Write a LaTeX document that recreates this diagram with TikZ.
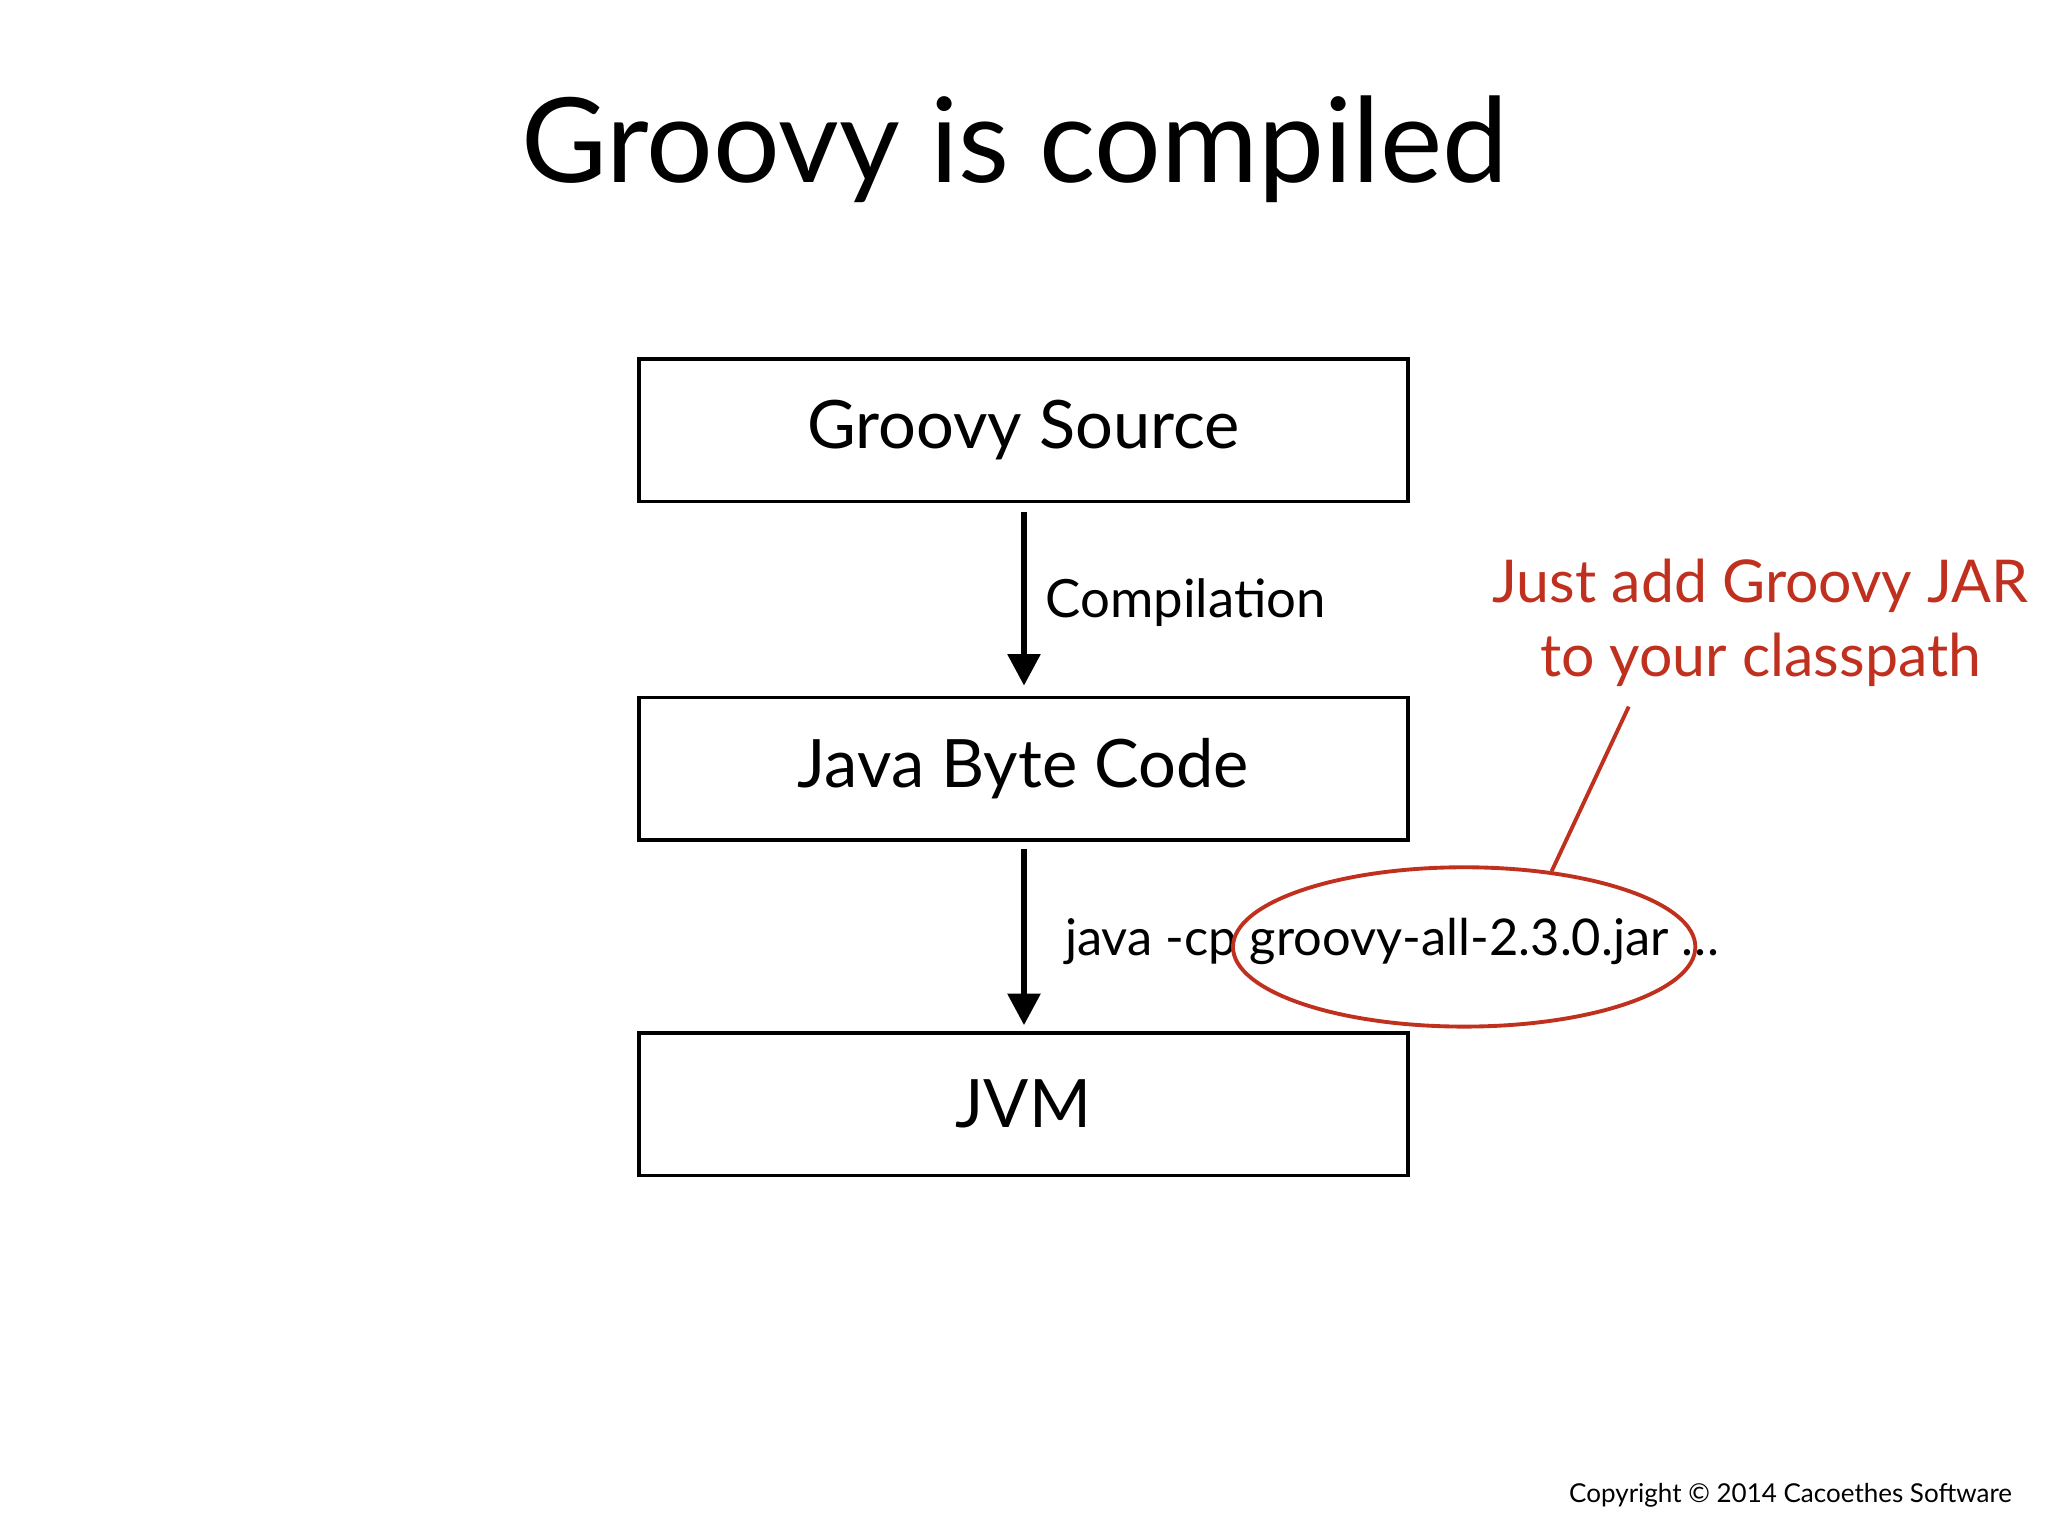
\documentclass[tikz,border=0pt]{standalone}
\usepackage{fontspec}
\setmainfont{Lato}
\usetikzlibrary{arrows.meta}
\definecolor{jred}{HTML}{C0301F}
\begin{document}
\begin{tikzpicture}[x=0.01306cm,y=-0.01306cm,
  stage/.style={draw,line width=1.1pt,minimum width=589*0.01306cm,minimum height=109*0.01306cm,inner sep=0pt,font=\fontsize{19}{24}\selectfont},
  flow/.style={line width=1.9pt,-{Triangle[length=9pt,width=9pt]}},
  lbl/.style={anchor=west,inner sep=0pt,font=\fontsize{15}{18}\selectfont}]
\useasboundingbox[fill=white] (0,0) rectangle (1568,1176);
\node (title) at (777,114) {\fontsize{33.5}{40}\selectfont Groovy is compiled};
\node[stage] (src) at (783.5,329.5) {\raisebox{-0.12em}{Groovy Source}};
\node[stage] (jbc) at (783.5,588.5) {\raisebox{-0.12em}{Java Byte Code}};
\node[stage] (jvm) at (783.5,845.5) {\raisebox{-0.12em}{JVM}};
\draw[flow] (784,392) -- (784,525);
\draw[flow] (784,650) -- (784,785);
\node[lbl] (comp) at (800,461) {Compilation};
\node[lbl,font=\fontsize{14.4}{18}\selectfont] (cp) at (815,721) {java -cp groovy-all-2.3.0.jar \dots};
\draw[jred,line width=1.1pt] (1121,725) ellipse [x radius=177,y radius=61];
\coordinate (ell) at (1188,667);
\node[jred,align=center,font=\fontsize{16.8}{21}\selectfont] (note) at (1348,477) {Just add Groovy JAR\\to your classpath};
\draw[jred,line width=1.1pt] (1247,541) -- (ell);
\node[anchor=east,font=\fontsize{7.4}{9}\selectfont] (copy) at (1550,1145) {Copyright © 2014 Cacoethes Software};
\end{tikzpicture}
\end{document}
